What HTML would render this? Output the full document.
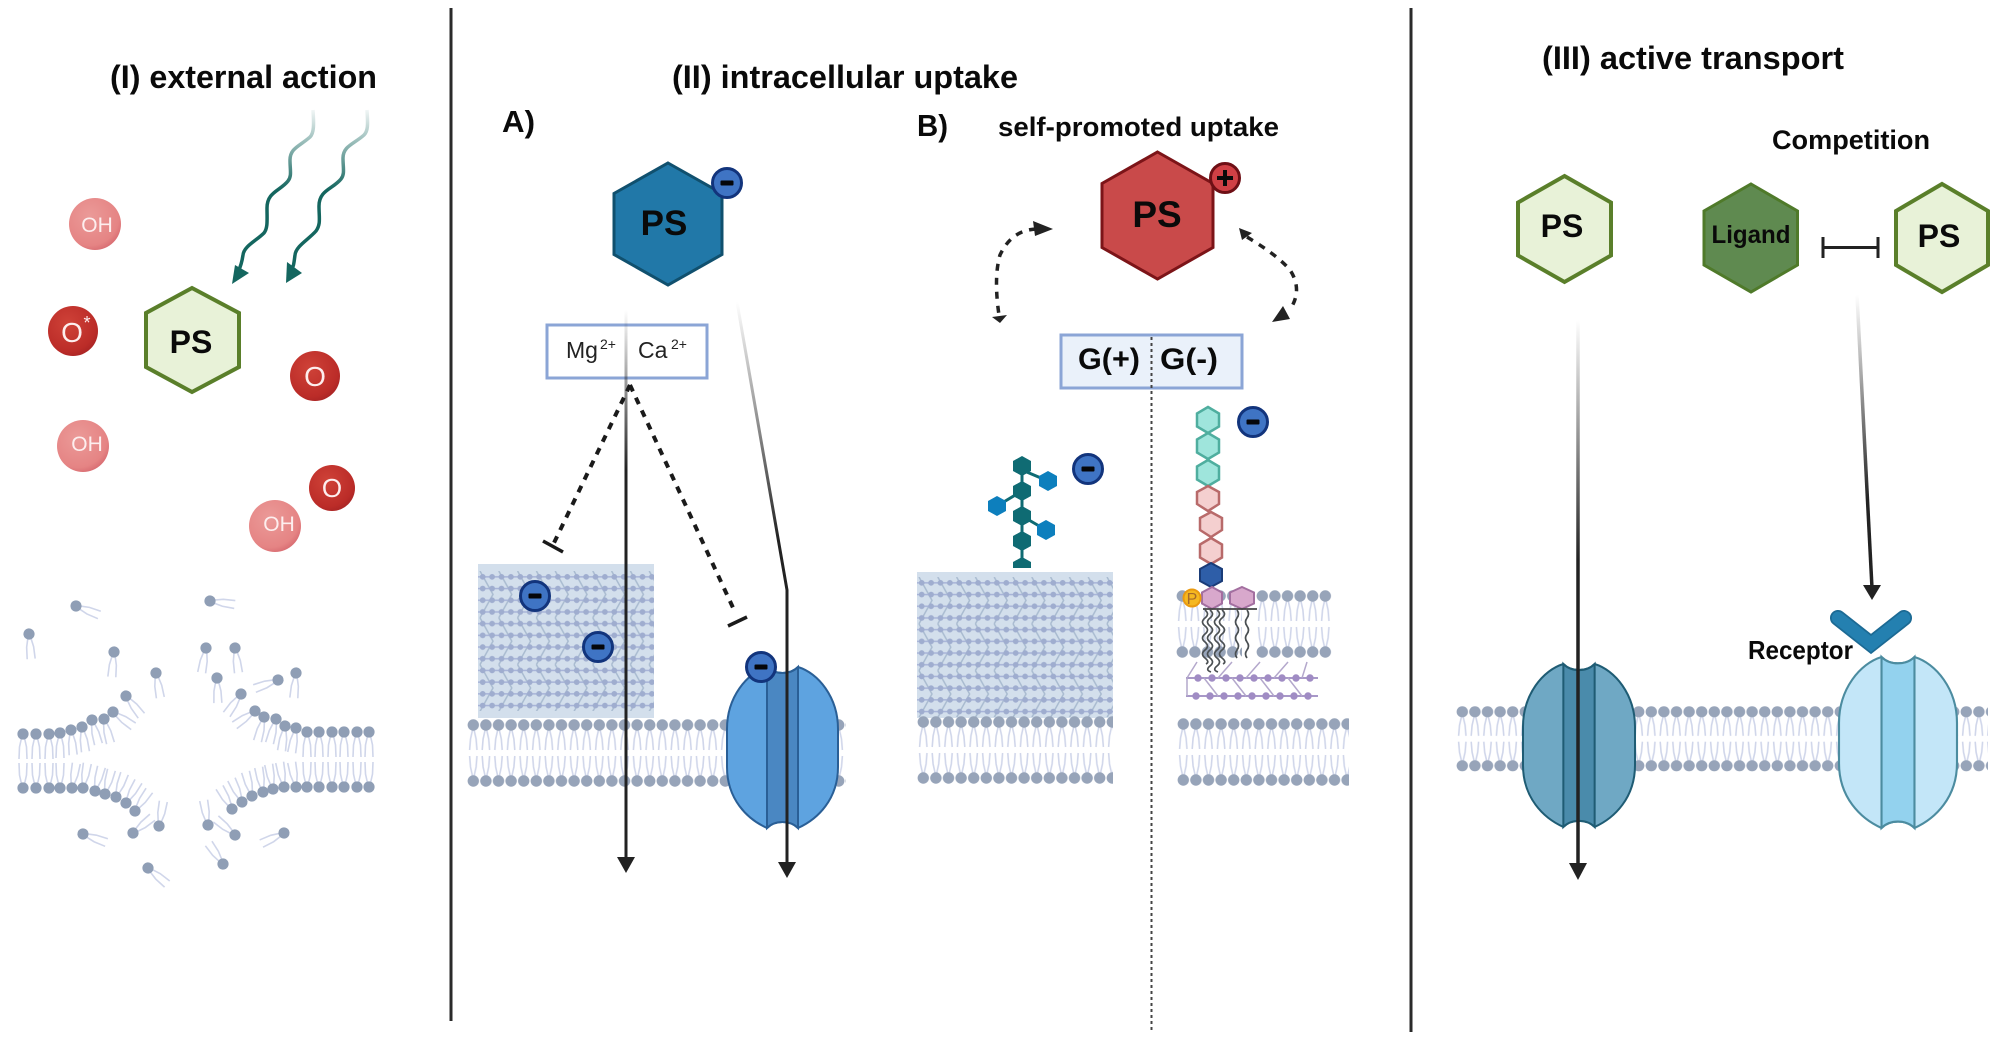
<!DOCTYPE html>
<html>
<head>
<meta charset="utf-8">
<style>
html,body{margin:0;padding:0;background:#fff;width:2008px;height:1043px;overflow:hidden}
svg{display:block}
text{font-family:"Liberation Sans",sans-serif}
.b{font-weight:bold;fill:#0a0a0a}
</style>
</head>
<body>
<svg width="2008" height="1043" viewBox="0 0 2008 1043" xmlns="http://www.w3.org/2000/svg">
<defs>
<radialGradient id="dk" cx="40%" cy="35%" r="70%"><stop offset="0" stop-color="#cf4238"/><stop offset=".8" stop-color="#bb2c28"/><stop offset="1" stop-color="#a82424"/></radialGradient>
<radialGradient id="lt" cx="40%" cy="35%" r="70%"><stop offset="0" stop-color="#eb9a98"/><stop offset=".8" stop-color="#e58484"/><stop offset="1" stop-color="#d76a70"/></radialGradient>
<linearGradient id="w1" gradientUnits="userSpaceOnUse" x1="0" y1="105" x2="0" y2="190"><stop offset="0" stop-color="#14665f" stop-opacity="0"/><stop offset="1" stop-color="#14665f"/></linearGradient>
<linearGradient id="g1" gradientUnits="userSpaceOnUse" x1="0" y1="310" x2="0" y2="470"><stop offset="0" stop-color="#222" stop-opacity="0"/><stop offset="1" stop-color="#222"/></linearGradient>
<linearGradient id="g2" gradientUnits="userSpaceOnUse" x1="0" y1="302" x2="0" y2="540"><stop offset="0" stop-color="#222" stop-opacity="0"/><stop offset="1" stop-color="#222"/></linearGradient>
<linearGradient id="g3" gradientUnits="userSpaceOnUse" x1="0" y1="320" x2="0" y2="560"><stop offset="0" stop-color="#222" stop-opacity="0"/><stop offset="1" stop-color="#222"/></linearGradient>
<linearGradient id="g4" gradientUnits="userSpaceOnUse" x1="0" y1="295" x2="0" y2="500"><stop offset="0" stop-color="#222" stop-opacity="0"/><stop offset="1" stop-color="#222"/></linearGradient>

<g id="lip">
<path d="M-1.5,4 L-3.5,13 L-4,25 M1.5,4 L3.5,13 L4,25" fill="none" stroke="#d0d6ea" stroke-width="1.6"/>
<circle r="5.6" fill="#8f9eb5"/>
</g>

<pattern id="mem" patternUnits="userSpaceOnUse" width="12.6" height="68">
<path d="M5.5,11 L3.5,20 L2.6,31 M7.1,11 L9.1,20 L10,31 M5.5,57 L3.5,48 L2.6,37 M7.1,57 L9.1,48 L10,37" fill="none" stroke="#d0d6ea" stroke-width="1.6"/>
<circle cx="6.3" cy="6" r="5.7" fill="#97a4b9"/>
<circle cx="6.3" cy="62" r="5.7" fill="#97a4b9"/>
</pattern>

<pattern id="blk" patternUnits="userSpaceOnUse" width="18.8" height="46.8">
<path d="M2,0 L15,23.4 L2,46.8" fill="none" stroke="#a9bbd0" stroke-width="1.5"/>
<path d="M0,5.85 H18.8 M0,17.55 H18.8 M0,29.25 H18.8 M0,40.95 H18.8" stroke="#a7b3d8" stroke-width="1.5"/>
<g fill="#9fadcf">
<circle cx="4.7" cy="5.85" r="2.9"/><circle cx="14.1" cy="5.85" r="2.9"/>
<circle cx="4.7" cy="17.55" r="2.9"/><circle cx="14.1" cy="17.55" r="2.9"/>
<circle cx="4.7" cy="29.25" r="2.9"/><circle cx="14.1" cy="29.25" r="2.9"/>
<circle cx="4.7" cy="40.95" r="2.9"/><circle cx="14.1" cy="40.95" r="2.9"/>
</g>
</pattern>

<pattern id="pur" patternUnits="userSpaceOnUse" width="14" height="18">
<circle cx="7" cy="9" r="3.7" fill="#a08cc4"/>
</pattern>

<path id="chO" d="M40,0 C20,6 0,30 0,62 L0,100 C0,132 20,152 40,161 C48,153 63,153 71,161 C91,152 111,132 111,100 L111,62 C111,30 91,6 71,0 C63,8 48,8 40,0 Z"/>
<path id="chB" d="M40,0 C48,8 63,8 71,0 L71,161 C63,153 48,153 40,161 Z"/>

<g id="neg"><circle r="14.5" fill="#3f74c4" stroke="#12347c" stroke-width="3"/><rect x="-6.5" y="-2.5" width="13" height="5" rx="1" fill="#05060a"/></g>
</defs>

<rect width="2008" height="1043" fill="#fff"/>

<!-- dividers -->
<line x1="451" y1="8" x2="451" y2="1021" stroke="#2a2a2a" stroke-width="3"/>
<line x1="1411" y1="8" x2="1411" y2="1032" stroke="#2a2a2a" stroke-width="3"/>

<!-- titles -->
<text class="b" x="110" y="88" font-size="32" textLength="267" lengthAdjust="spacingAndGlyphs">(I) external action</text>
<text class="b" x="672" y="88" font-size="32" textLength="346" lengthAdjust="spacingAndGlyphs">(II) intracellular uptake</text>
<text class="b" x="1542" y="69" font-size="32" textLength="302" lengthAdjust="spacingAndGlyphs">(III) active transport</text>

<!-- Panel I : waves -->
<path d="M313,110 C314,125 314,133 310,137 C300,146 290,148 290,160 C290,170 292,176 288,181 C280,191 267,192 267,208 C267,220 268,228 264,233 C256,241 244,246 243,255 C242,262 241,266 238,272" fill="none" stroke="url(#w1)" stroke-width="3.5"/>
<polygon points="232,284 249,273 235,265" fill="#14665f"/>
<path d="M367,110 C368,125 368,131 364,135 C354,144 343,146 343,158 C343,168 345,174 341,179 C333,189 319,190 319,206 C319,218 321,224 316,231 C308,240 296,246 295,255 C294,262 294,266 291,271" fill="none" stroke="url(#w1)" stroke-width="3.5"/>
<polygon points="286,283 302,273 287,262" fill="#14665f"/>

<!-- Panel I : hexagon -->
<polygon points="192,288 239,313 239,367 192,392 146,367 146,313" fill="#e8f2d8" stroke="#5a7f2a" stroke-width="4"/>
<text class="b" x="191" y="353" font-size="32" text-anchor="middle">PS</text>

<!-- Panel I : radicals -->
<circle cx="95" cy="224" r="26" fill="url(#lt)"/><text x="97" y="232" font-size="21" fill="#fdeeee" text-anchor="middle">OH</text>
<circle cx="73" cy="331" r="25" fill="url(#dk)"/><text x="72" y="342" font-size="28" fill="#fdeeee" text-anchor="middle">O</text><text x="87" y="329" font-size="18" fill="#fdeeee" text-anchor="middle">*</text>
<circle cx="315" cy="376" r="25" fill="url(#dk)"/><text x="315" y="386" font-size="28" fill="#fdeeee" text-anchor="middle">O</text>
<circle cx="83" cy="446" r="26" fill="url(#lt)"/><text x="87" y="451" font-size="21" fill="#fdeeee" text-anchor="middle">OH</text>
<circle cx="332" cy="488" r="23" fill="url(#dk)"/><text x="332" y="497" font-size="26" fill="#fdeeee" text-anchor="middle">O</text>
<circle cx="275" cy="526" r="26" fill="url(#lt)"/><text x="279" y="531" font-size="21" fill="#fdeeee" text-anchor="middle">OH</text>

<!-- Panel I : broken membrane -->
<use href="#lip" transform="translate(23,734)"/><use href="#lip" transform="translate(36,734)"/><use href="#lip" transform="translate(49,734)"/><use href="#lip" transform="translate(60,733)"/><use href="#lip" transform="translate(71,730) rotate(-5)"/><use href="#lip" transform="translate(82,727) rotate(-8)"/><use href="#lip" transform="translate(92,720) rotate(-15)"/><use href="#lip" transform="translate(104,719) rotate(-15)"/><use href="#lip" transform="translate(113,712) rotate(-55)"/><use href="#lip" transform="translate(126,696) rotate(-38)"/>
<use href="#lip" transform="translate(23,788) rotate(180)"/><use href="#lip" transform="translate(36,788) rotate(180)"/><use href="#lip" transform="translate(49,788) rotate(180)"/><use href="#lip" transform="translate(60,788) rotate(180)"/><use href="#lip" transform="translate(72,788) rotate(190)"/><use href="#lip" transform="translate(83,788) rotate(190)"/><use href="#lip" transform="translate(95,791) rotate(195)"/><use href="#lip" transform="translate(105,794) rotate(195)"/><use href="#lip" transform="translate(116,797) rotate(200)"/><use href="#lip" transform="translate(126,803) rotate(210)"/><use href="#lip" transform="translate(135,811) rotate(215)"/>
<use href="#lip" transform="translate(369,732)"/><use href="#lip" transform="translate(357,732)"/><use href="#lip" transform="translate(344,732)"/><use href="#lip" transform="translate(332,732)"/><use href="#lip" transform="translate(319,732)"/><use href="#lip" transform="translate(307,732)"/><use href="#lip" transform="translate(296,728) rotate(10)"/><use href="#lip" transform="translate(285,726) rotate(8)"/><use href="#lip" transform="translate(276,719) rotate(15)"/><use href="#lip" transform="translate(264,717) rotate(15)"/><use href="#lip" transform="translate(255,711) rotate(55)"/><use href="#lip" transform="translate(241,694) rotate(35)"/>
<use href="#lip" transform="translate(369,787) rotate(180)"/><use href="#lip" transform="translate(357,787) rotate(180)"/><use href="#lip" transform="translate(344,787) rotate(180)"/><use href="#lip" transform="translate(332,787) rotate(180)"/><use href="#lip" transform="translate(319,787) rotate(180)"/><use href="#lip" transform="translate(307,787) rotate(180)"/><use href="#lip" transform="translate(296,787) rotate(170)"/><use href="#lip" transform="translate(284,787) rotate(170)"/><use href="#lip" transform="translate(273,789) rotate(170)"/><use href="#lip" transform="translate(263,792) rotate(170)"/><use href="#lip" transform="translate(252,796) rotate(165)"/><use href="#lip" transform="translate(242,802) rotate(155)"/><use href="#lip" transform="translate(232,809) rotate(150)"/>
<use href="#lip" transform="translate(76,606) rotate(-69)"/><use href="#lip" transform="translate(29,634) rotate(-5)"/><use href="#lip" transform="translate(114,652) rotate(5)"/><use href="#lip" transform="translate(156,673) rotate(-10)"/><use href="#lip" transform="translate(210,601) rotate(-82)"/><use href="#lip" transform="translate(206,648) rotate(10)"/><use href="#lip" transform="translate(235,648) rotate(-8)"/><use href="#lip" transform="translate(217,678) rotate(-2)"/><use href="#lip" transform="translate(278,680) rotate(70)"/><use href="#lip" transform="translate(296,673) rotate(5)"/><use href="#lip" transform="translate(83,834) rotate(-70)"/><use href="#lip" transform="translate(133,833) rotate(-129)"/><use href="#lip" transform="translate(159,826) rotate(190)"/><use href="#lip" transform="translate(208,825) rotate(170)"/><use href="#lip" transform="translate(235,835) rotate(130)"/><use href="#lip" transform="translate(284,833) rotate(65)"/><use href="#lip" transform="translate(223,864) rotate(145)"/><use href="#lip" transform="translate(148,868) rotate(-50)"/>

<!-- Panel II A -->
<text class="b" x="502" y="132" font-size="31" textLength="33" lengthAdjust="spacingAndGlyphs">A)</text>
<polygon points="668,163 722,193.5 722,254.5 668,285 614,254.5 614,193.5" fill="#2178a8" stroke="#10506e" stroke-width="3"/>
<text class="b" x="664" y="235" font-size="35" text-anchor="middle">PS</text>
<use href="#neg" transform="translate(727,183)"/>

<rect x="547" y="325" width="160" height="53" fill="#fff" stroke="#8ba5d6" stroke-width="3"/>
<text x="566" y="358" font-size="23" fill="#222">Mg</text><text x="600" y="349" font-size="14" fill="#222">2+</text>
<text x="638" y="358" font-size="23" fill="#222">Ca</text><text x="671" y="349" font-size="14" fill="#222">2+</text>

<rect x="478" y="564" width="176" height="154" fill="#d3dfec"/>
<g transform="translate(478,571)"><rect width="176" height="140" fill="url(#blk)"/></g>
<g transform="translate(467,719)"><rect width="379" height="68" fill="url(#mem)"/></g>

<g transform="translate(727,667)"><use href="#chO" fill="#5ea3e0" stroke="#2a5f96" stroke-width="2"/><use href="#chB" fill="#4a87c2" stroke="#2a5f96" stroke-width="2"/></g>

<use href="#neg" transform="translate(535,596)"/>
<use href="#neg" transform="translate(598,647)"/>
<use href="#neg" transform="translate(761,667)"/>

<path d="M630,385 L552,547" fill="none" stroke="#1a1a1a" stroke-width="4" stroke-dasharray="7,7"/>
<line x1="543" y1="541" x2="563" y2="552" stroke="#1a1a1a" stroke-width="3.5"/>
<path d="M630,385 L735,612" fill="none" stroke="#1a1a1a" stroke-width="4" stroke-dasharray="7,7"/>
<line x1="728" y1="626" x2="747" y2="617" stroke="#1a1a1a" stroke-width="3.5"/>

<line x1="626" y1="310" x2="626" y2="860" stroke="url(#g1)" stroke-width="3"/>
<polygon points="617,857 635,857 626,873" fill="#222"/>
<polyline points="737,302 787,590 787,865" fill="none" stroke="url(#g2)" stroke-width="3"/>
<polygon points="778,862 796,862 787,878" fill="#222"/>

<!-- Panel II B -->
<text class="b" x="917" y="136" font-size="31" textLength="31" lengthAdjust="spacingAndGlyphs">B)</text>
<text class="b" x="998" y="136" font-size="27" textLength="281" lengthAdjust="spacingAndGlyphs">self-promoted uptake</text>
<polygon points="1157.5,152 1213,183.5 1213,247.5 1157.5,279 1102,247.5 1102,183.5" fill="#c94a4a" stroke="#7c1418" stroke-width="3"/>
<text class="b" x="1157" y="227" font-size="37" text-anchor="middle">PS</text>
<circle cx="1225" cy="178" r="14.5" fill="#d04045" stroke="#6e0f15" stroke-width="3"/>
<path d="M1217,178 H1233 M1225,170 V186" stroke="#0a0a0a" stroke-width="4"/>

<path d="M1036,229 C1018,230 1007,240 1000,255 C995,272 996,295 999,315" fill="none" stroke="#222" stroke-width="3.5" stroke-dasharray="7,7"/>
<polygon points="1053,229 1033,221 1035,236" fill="#222"/>
<polygon points="1000,323 992,317 1007,315" fill="#222"/>
<path d="M1247,237 C1262,246 1280,258 1290,270 C1298,282 1299,295 1291,308" fill="none" stroke="#222" stroke-width="3.5" stroke-dasharray="7,7"/>
<polygon points="1239,228 1242,240 1252,233" fill="#222"/>
<polygon points="1272,322 1290,319 1283,306" fill="#222"/>

<rect x="1061" y="335" width="181" height="53" fill="#eaf1fa" stroke="#8ba5d6" stroke-width="3"/>
<text class="b" x="1078" y="369" font-size="30" textLength="62" lengthAdjust="spacingAndGlyphs">G(+)</text>
<text class="b" x="1160" y="369" font-size="30" textLength="58" lengthAdjust="spacingAndGlyphs">G(-)</text>
<line x1="1151.5" y1="337" x2="1151.5" y2="1032" stroke="#444" stroke-width="2" stroke-dasharray="3,3"/>

<rect x="917" y="572" width="196" height="146" fill="#d3dfec"/>
<g transform="translate(917,577)"><rect width="196" height="140" fill="url(#blk)"/></g>
<g transform="translate(917,716)"><rect width="196" height="68" fill="url(#mem)"/></g>

<!-- glycan tree -->
<path d="M1022,466 V560 M1022,470 L1048,481 M1022,491 L997,506 M1022,516 L1046,530" stroke="#0f6b73" stroke-width="3"/>
<polygon points="1022,456 1031,461 1031,471 1022,476 1013,471 1013,461" fill="#0f6b73"/>
<polygon points="1022,481 1031,486 1031,496 1022,501 1013,496 1013,486" fill="#0f6b73"/>
<polygon points="1022,506 1031,511 1031,521 1022,526 1013,521 1013,511" fill="#0f6b73"/>
<polygon points="1022,531 1031,536 1031,546 1022,551 1013,546 1013,536" fill="#0f6b73"/>
<polygon points="1022,557 1031,562 1031,568 1013,568 1013,562" fill="#0f6b73"/>
<polygon points="1048,471 1057,476 1057,486 1048,491 1039,486 1039,476" fill="#0d7fbd"/>
<polygon points="997,496 1006,501 1006,511 997,516 988,511 988,501" fill="#0d7fbd"/>
<polygon points="1046,520 1055,525 1055,535 1046,540 1037,535 1037,525" fill="#0d7fbd"/>
<use href="#neg" transform="translate(1088,469)"/>

<!-- G- wall -->
<g transform="translate(1176,590)"><rect width="66" height="68" fill="url(#mem)"/></g>
<g transform="translate(1256,590)"><rect width="76" height="68" fill="url(#mem)"/></g>
<g transform="translate(1177,718)"><rect width="172" height="68" fill="url(#mem)"/></g>

<g fill="#9fe5dc" stroke="#4fae9f" stroke-width="2.5">
<polygon points="1208,407 1219,413.5 1219,426.5 1208,433 1197,426.5 1197,413.5"/>
<polygon points="1208,433 1219,439.5 1219,452.5 1208,459 1197,452.5 1197,439.5"/>
<polygon points="1208,460 1219,466.5 1219,479.5 1208,486 1197,479.5 1197,466.5"/>
</g>
<g fill="#f4cfcf" stroke="#b86a6a" stroke-width="2.5">
<polygon points="1208,486 1219,492 1219,504 1208,511 1197,504 1197,492"/>
<polygon points="1211,512 1222,518 1222,530 1211,537 1200,530 1200,518"/>
<polygon points="1211,538 1222,544.5 1222,557.5 1211,564 1200,557.5 1200,544.5"/>
</g>
<polygon points="1211,563 1222,569 1222,581 1211,587 1200,581 1200,569" fill="#2e5ea8" stroke="#1a3c78" stroke-width="2"/>
<polygon points="1212,587 1222,592.5 1222,603.5 1212,609 1202,603.5 1202,592.5" fill="#d8a8cc" stroke="#a36fa0" stroke-width="2"/>
<polygon points="1242,587 1254,592.5 1254,603.5 1242,609 1230,603.5 1230,592.5" fill="#d8a8cc" stroke="#a36fa0" stroke-width="2"/>
<circle cx="1192" cy="598" r="8.5" fill="#f5b820" stroke="#ea9a10" stroke-width="2"/>
<text x="1192" y="604" font-size="16" fill="#a66a2a" text-anchor="middle">P</text>
<line x1="1203" y1="609" x2="1257" y2="609" stroke="#444" stroke-width="1.8"/>
<g fill="none" stroke="#4a4f52" stroke-width="1.7">
<path d="M1205,610 q5,4 0,8 q-5,4 0,8 q5,4 0,8 q-5,4 0,8 q5,4 0,8 q-5,4 0,8 q5,4 1,6"/>
<path d="M1210,610 q5,4 0,8 q-5,4 0,8 q5,4 0,8 q-5,4 0,8 q5,4 0,8 q-5,4 0,8 q5,4 0,8 q-5,4 1,6"/>
<path d="M1217,610 q5,4 0,8 q-5,4 0,8 q5,4 0,8 q-5,4 0,8 q5,4 0,8 q-5,4 0,8 q5,4 0,8 q-5,4 1,6"/>
<path d="M1222,610 q5,4 0,8 q-5,4 0,8 q5,4 0,8 q-5,4 0,8 q5,4 0,8 q-5,4 0,8 q5,4 1,6"/>
<path d="M1237,610 q3,4 0,8 q-3,4 0,8 q3,4 0,8 q-3,4 0,8 q3,4 0,8 q-3,4 0,8"/>
<path d="M1247,610 q3,4 0,8 q-3,4 0,8 q3,4 0,8 q-3,4 0,8 q3,4 0,8 q-3,4 0,8"/>
</g>
<!-- peptidoglycan -->
<path d="M1186,678 H1318 M1186,696 H1318" stroke="#9c8ac0" stroke-width="1.8"/>
<path d="M1187,678 L1197,662 M1187,678 L1187,696 M1204,678 L1218,696 M1218,678 L1232,662 M1232,678 L1246,696 M1246,678 L1260,662 M1260,678 L1274,696 M1274,678 L1288,662 M1288,678 L1302,696 M1302,678 L1307,662" stroke="#b4a8cc" stroke-width="1.5" fill="none"/>
<g transform="translate(1191,669)"><rect width="126" height="18" fill="url(#pur)"/></g>
<g transform="translate(1189,687)"><rect width="126" height="18" fill="url(#pur)"/></g>
<use href="#neg" transform="translate(1253,422)"/>

<!-- Panel III -->
<text class="b" x="1772" y="149" font-size="27" textLength="158" lengthAdjust="spacingAndGlyphs">Competition</text>
<polygon points="1564.5,176 1611,202.5 1611,255.5 1564.5,282 1518,255.5 1518,202.5" fill="#e8f2d8" stroke="#5a7f2a" stroke-width="4"/>
<text class="b" x="1562" y="237" font-size="32" text-anchor="middle">PS</text>
<polygon points="1751,184 1797.5,211 1797.5,265 1751,292 1704,265 1704,211" fill="#5f8a50" stroke="#4f7a2a" stroke-width="3"/>
<text class="b" x="1751" y="243" font-size="25" text-anchor="middle" textLength="79" lengthAdjust="spacingAndGlyphs">Ligand</text>
<path d="M1823,247.5 H1878 M1823,237 V258 M1878,237 V258" stroke="#222" stroke-width="3" fill="none"/>
<polygon points="1942,184 1988,211 1988,265 1942,292 1896,265 1896,211" fill="#e8f2d8" stroke="#5a7f2a" stroke-width="4"/>
<text class="b" x="1939" y="247" font-size="32" text-anchor="middle">PS</text>

<line x1="1857" y1="295" x2="1872" y2="588" stroke="url(#g4)" stroke-width="3.5"/>
<polygon points="1863,585 1881,585 1872,600" fill="#222"/>

<g transform="translate(1456,706) scale(1,0.964)"><rect width="532" height="68" fill="url(#mem)"/></g>
<g transform="translate(1523,664) scale(1.009,1.012)"><use href="#chO" fill="#6fa8c4" stroke="#1f5c74" stroke-width="2"/><use href="#chB" fill="#4a8bab" stroke="#1f5c74" stroke-width="2"/></g>
<g transform="translate(1839,657) scale(1.063,1.062)"><use href="#chO" fill="#c3e6f8" stroke="#4c8ca0" stroke-width="2"/><use href="#chB" fill="#93d2ee" stroke="#4c8ca0" stroke-width="2"/></g>

<polyline points="1838,618 1871,644 1904,618" fill="none" stroke="#1c6a94" stroke-width="16" stroke-linecap="round"/>
<polyline points="1838,618 1871,644 1904,618" fill="none" stroke="#2480b0" stroke-width="12.5" stroke-linecap="round"/>
<text class="b" x="1748" y="659" font-size="26" textLength="105" lengthAdjust="spacingAndGlyphs">Receptor</text>

<line x1="1578" y1="320" x2="1578" y2="866" stroke="url(#g3)" stroke-width="3.5"/>
<polygon points="1569,863 1587,863 1578,880" fill="#222"/>
</svg>
</body>
</html>
